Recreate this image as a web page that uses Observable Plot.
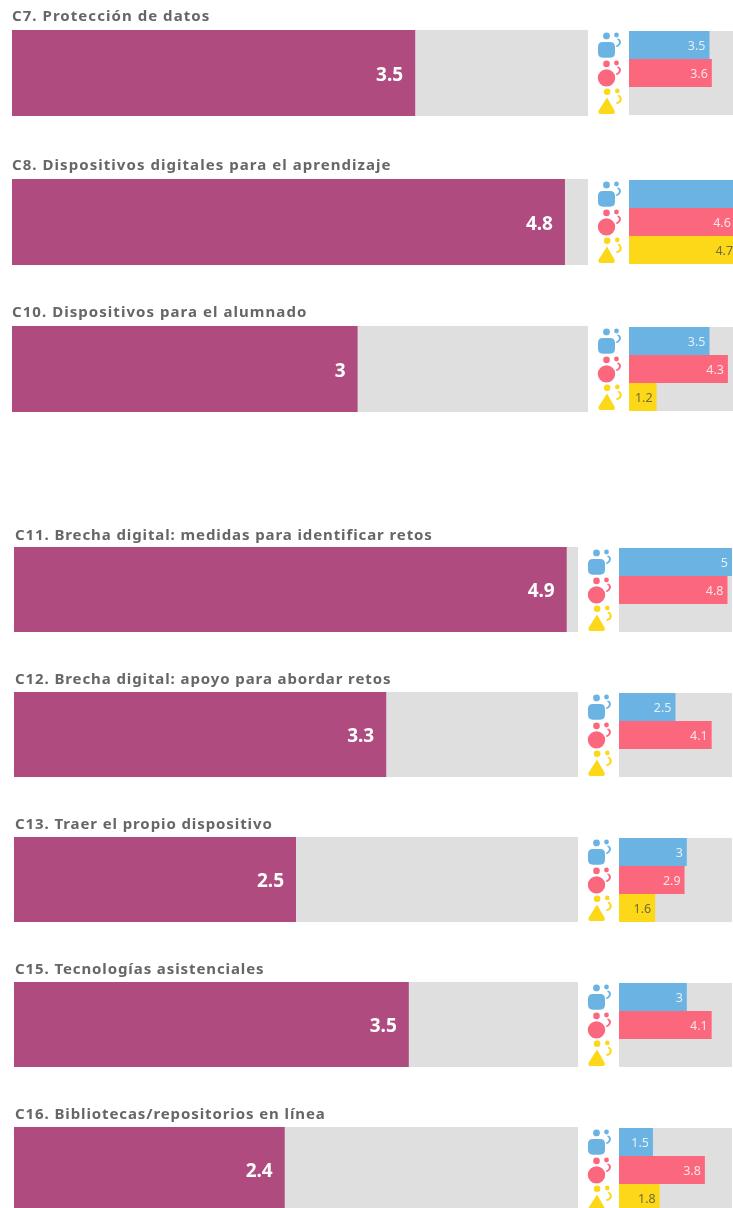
<!DOCTYPE html>
<html lang="es">
<head>
<meta charset="utf-8">
<script src="https://cdn.jsdelivr.net/npm/d3@7"></script>
<script src="https://cdn.jsdelivr.net/npm/@observablehq/plot@0.6"></script>
<style>
html,body{margin:0;padding:0;background:#fff;overflow:hidden;width:733px;height:1208px;}
#root{position:relative;width:733px;height:1208px;overflow:hidden;font-family:"Noto Sans",sans-serif;filter:blur(.4px);}
.t{position:absolute;font:700 15px "Noto Sans",sans-serif;letter-spacing:1.05px;color:#666;white-space:nowrap;line-height:18px;}
.p{position:absolute;}
.p svg{display:block;overflow:visible;background:transparent;max-width:none !important;flex:none;}
</style>
</head>
<body>
<div id="root"></div>
<script>
// Data
const labels = [
  "C7. Protección de datos",
  "C8. Dispositivos digitales para el aprendizaje",
  "C10. Dispositivos para el alumnado",
  "C11. Brecha digital: medidas para identificar retos",
  "C12. Brecha digital: apoyo para abordar retos",
  "C13. Traer el propio dispositivo",
  "C15. Tecnologías asistenciales",
  "C16. Bibliotecas/repositorios en línea"
];
const totals = [3.5, 4.8, 3, 4.9, 3.3, 2.5, 3.5, 2.4];
const directivos = [3.5, 5, 3.5, 5, 2.5, 3, 3, 1.5];
const docentes   = [3.6, 4.6, 4.3, 4.8, 4.1, 2.9, 4.1, 3.8];
const alumnado   = [null, 4.7, 1.2, null, null, 1.6, null, 1.8];
const series = ["directivos", "docentes", "alumnado"];

// Layout and style
const tops   = [30, 179, 326, 547, 692, 837, 982, 1127];
const titleY = [6, 155, 302, 525, 669, 814, 959, 1104];
const groups = [0, 0, 0, 1, 1, 1, 1, 1];
const layout = [
  {left: 12, width: 576, height: 86, smallLeft: 629, smallWidth: 115, titleLeft: 12, titleSpacing: 1.05},
  {left: 14, width: 564, height: 85, smallLeft: 619, smallWidth: 113, titleLeft: 15, titleSpacing: 0.9}
];
const iconGutter = 40;
const GRAY = "#dfdfdf";
const colors = {directivos: "#6bb3e3", docentes: "#fb687d", alumnado: "#fdd819"};
const textColors = {directivos: "#e4f0f8", docentes: "#fde3e6", alumnado: "#6f6c3a"};

function companions(p) {
  p.moveTo(10 + 2.4, -10.5); p.arc(10, -10.5, 2.4, 0, 2 * Math.PI);
  p.moveTo(11, -7);
  p.bezierCurveTo(15.4, -6.8, 16.2, -0.4, 10, 1.8);
  p.lineTo(9.5, 0.2);
  p.bezierCurveTo(13.4, -1.2, 13, -5, 10.8, -5.4);
  p.closePath();
}
const symbols = {
  directivos: {draw(p) {
    p.moveTo(3.4, -9.6); p.arc(0, -9.6, 3.4, 0, 2 * Math.PI);
    p.moveTo(-3.6, -3.6); p.lineTo(3.6, -3.6);
    p.quadraticCurveTo(8.5, -3.6, 8.5, 1.3); p.lineTo(8.5, 7);
    p.quadraticCurveTo(8.5, 12.2, 3.6, 12.2); p.lineTo(-3.6, 12.2);
    p.quadraticCurveTo(-8.5, 12.2, -8.5, 7); p.lineTo(-8.5, 1.3);
    p.quadraticCurveTo(-8.5, -3.6, -3.6, -3.6); p.closePath();
    companions(p);
  }},
  docentes: {draw(p) {
    p.moveTo(3.3, -9.6); p.arc(0, -9.6, 3.3, 0, 2 * Math.PI);
    p.moveTo(8.7, 4.4); p.arc(0, 4.4, 8.7, 0, 2 * Math.PI);
    companions(p);
  }},
  alumnado: {draw(p) {
    p.moveTo(3.9, -9.8); p.arc(0.6, -9.8, 3.3, 0, 2 * Math.PI);
    p.moveTo(0.5, -4);
    p.lineTo(8, 9); p.quadraticCurveTo(9.2, 12.6, 6, 12.6);
    p.lineTo(-5.8, 12.6); p.quadraticCurveTo(-9, 12.6, -7.8, 9);
    p.closePath();
    p.moveTo(13.1, -10.6); p.arc(10.8, -10.6, 2.3, 0, 2 * Math.PI);
    p.moveTo(11.6, -6.8);
    p.bezierCurveTo(16.8, -6.2, 16.8, 2, 10, 2.4);
    p.lineTo(9.6, 0.8);
    p.bezierCurveTo(14, 0.6, 14, -4.6, 11.2, -5.2);
    p.closePath();
  }}
};

const root = document.getElementById("root");
function place(node, left, top, width, height) {
  const d = document.createElement("div");
  d.className = "p";
  d.style.left = left + "px";
  d.style.top = top + "px";
  d.style.width = width + "px";
  d.style.height = height + "px";
  node.style.maxWidth = "none";
  node.style.width = width + "px";
  node.style.height = height + "px";
  d.append(node);
  root.append(d);
}

labels.forEach((label, i) => {
  const g = layout[groups[i]];

  const t = document.createElement("div");
  t.className = "t";
  t.textContent = label;
  t.style.left = g.titleLeft + "px";
  t.style.letterSpacing = g.titleSpacing + "px";
  t.style.top = titleY[i] + "px";
  root.append(t);

  place(Plot.plot({
    width: g.width, height: g.height,
    margin: 0,
    x: {domain: [0, 5], axis: null},
    marks: [
      Plot.barX([5], {x: d => d, fill: GRAY}),
      Plot.barX([totals[i]], {x: d => d, fill: "#b04b7f"}),
      Plot.text([totals[i]], {
        x: d => d, text: d => String(d), textAnchor: "end", dx: -12.5, dy: 1,
        fill: "#fff", fontWeight: 700, fontSize: 19, fontFamily: "Noto Sans"
      })
    ]
  }), g.left, tops[i], g.width, g.height);

  const rows = [
    {s: "directivos", v: directivos[i]},
    {s: "docentes", v: docentes[i]},
    {s: "alumnado", v: alumnado[i]}
  ].filter(d => d.v != null);

  place(Plot.plot({
    width: iconGutter + g.smallWidth, height: g.height,
    marginTop: 0, marginRight: 0, marginBottom: 0, marginLeft: iconGutter,
    x: {domain: [0, 5], axis: null},
    y: {domain: series, padding: 0, axis: null},
    marks: [
      Plot.barX(series, {x: () => 5, y: d => d, fill: GRAY}),
      Plot.barX(rows, {x: "v", y: "s", fill: d => colors[d.s]}),
      Plot.text(rows, {
        x: "v", y: "s", text: d => String(d.v), textAnchor: "end", dx: -4.5,
        fill: d => textColors[d.s], fontSize: 12.5, fontFamily: "Noto Sans"
      }),
      ...series.map(s => Plot.dot([s], {
        y: d => d, frameAnchor: "left", dx: -23, r: 10,
        fill: colors[s], symbol: symbols[s]
      }))
    ]
  }), g.smallLeft - iconGutter, tops[i], iconGutter + g.smallWidth, g.height);
});
</script>
</body>
</html>
